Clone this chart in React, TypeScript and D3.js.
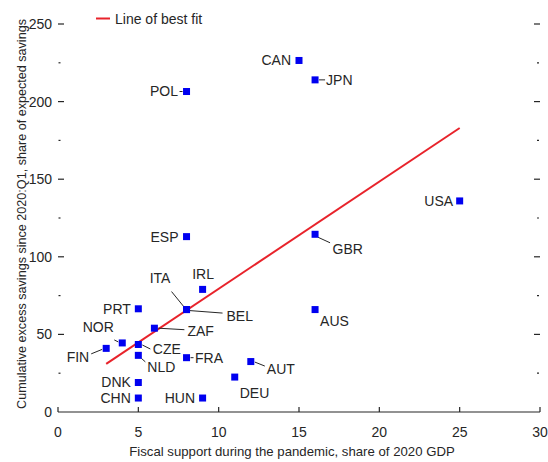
import React from 'react';
import * as d3 from 'd3';

// Fiscal support (% of 2020 GDP) vs cumulative excess savings since 2020:Q1
const countries = ['CAN', 'JPN', 'POL', 'USA', 'ESP', 'GBR', 'AUS', 'IRL', 'ITA', 'BEL', 'PRT', 'ZAF', 'NOR', 'CZE', 'FIN', 'NLD', 'FRA', 'AUT', 'DEU', 'DNK', 'CHN', 'HUN'];
const fiscalSupport = [15, 16, 8, 25, 8, 16, 16, 9, 8, 8, 5, 6, 4, 5, 3, 5, 8, 12, 11, 5, 5, 9];
const excessSavings = [226.5, 214, 206.5, 136, 113, 114.5, 66, 79, 66, 66, 66.5, 54, 44.5, 43.5, 41, 36.5, 35, 32.5, 22.5, 19, 9, 9];

// best fit endpoints
const fitX = [3, 25];
const fitY = [31, 183];

const xTicks = [0, 5, 10, 15, 20, 25, 30];
const yTicks = [0, 50, 100, 150, 200, 250];
const yMinorTicks = [25, 75, 125, 175, 225];

// label placement: dx, dy, anchor, optional leader [x1,y1,x2,y2] relative to the point
type Place = { dx: number; dy: number; anchor: 'start' | 'middle' | 'end'; leader?: number[] };
const placement: Record<string, Place> = {
  CAN: { dx: -8, dy: 0, anchor: 'end' },
  JPN: { dx: 11, dy: 0, anchor: 'start', leader: [4, 0, 10, 0] },
  POL: { dx: -8.5, dy: 0, anchor: 'end', leader: [-7, 0, -4, 0] },
  USA: { dx: -6.5, dy: 0, anchor: 'end' },
  ESP: { dx: -8, dy: 0, anchor: 'end' },
  GBR: { dx: 17.5, dy: 15, anchor: 'start', leader: [3, 3, 15, 8.5] },
  AUS: { dx: 5, dy: 12, anchor: 'start' },
  IRL: { dx: 0.5, dy: -15.5, anchor: 'middle' },
  ITA: { dx: -26.5, dy: -31.5, anchor: 'middle', leader: [-15, -18, -2, -2] },
  BEL: { dx: 40, dy: 6.5, anchor: 'start', leader: [3, 1, 36, 3.5] },
  PRT: { dx: -7.5, dy: 0, anchor: 'end' },
  ZAF: { dx: 33, dy: 3, anchor: 'start', leader: [4, 0, 30, 1.5] },
  NOR: { dx: -24, dy: -16, anchor: 'middle', leader: [-8, -3, -4, -1] },
  CZE: { dx: 14.5, dy: 5, anchor: 'start', leader: [4, 0.5, 12, 4.5] },
  FIN: { dx: -17, dy: 8.3, anchor: 'end', leader: [-15, 5.5, -4, 1] },
  NLD: { dx: 9, dy: 11.5, anchor: 'start', leader: [3, 3, 7, 6.5] },
  FRA: { dx: 8.5, dy: 0, anchor: 'start', leader: [4, 0, 7, 0] },
  AUT: { dx: 16, dy: 8, anchor: 'start', leader: [4, 0.5, 14, 4.5] },
  DEU: { dx: 5, dy: 16, anchor: 'start' },
  DNK: { dx: -7.5, dy: 0, anchor: 'end' },
  CHN: { dx: -7.5, dy: 0, anchor: 'end' },
  HUN: { dx: -7.5, dy: 0, anchor: 'end' },
};

const W = 548;
const H = 462;
const FONT = '"Liberation Sans", Arial, sans-serif';
const INK = '#262626';

const App: React.FC = () => {
  const x = d3.scaleLinear().domain([0, 30]).range([58, 540]);
  const y = d3.scaleLinear().domain([0, 250]).range([412, 24]);
  const size = 7;

  const fitLine = d3
    .line<number>()
    .x((d) => x(fitX[d]))
    .y((d) => y(fitY[d]));

  return (
    <svg
      width={W}
      height={H}
      style={{ position: 'absolute', left: 0, top: 0, background: '#fff' }}
      fontFamily={FONT}
    >
      {/* bottom axis */}
      <line x1={x(0)} x2={x(30)} y1={y(0)} y2={y(0)} stroke={INK} strokeWidth={1.2} />
      {xTicks.map((t) => (
        <g key={'x' + t}>
          <line x1={x(t)} x2={x(t)} y1={y(0)} y2={y(0) - 5} stroke={INK} strokeWidth={1.2} />
          <text x={x(t)} y={437} textAnchor="middle" fontSize={14} fill={INK}>
            {t}
          </text>
        </g>
      ))}

      {/* left ticks and labels, mirrored ticks on the right */}
      {yTicks.map((t) => (
        <g key={'y' + t}>
          {t > 0 && <line x1={58} x2={64} y1={y(t)} y2={y(t)} stroke={INK} strokeWidth={1.2} />}
          <text x={52} y={y(t)} dy="0.35em" textAnchor="end" fontSize={14} fill={INK}>
            {t}
          </text>
          {t > 0 && <line x1={534} x2={540} y1={y(t)} y2={y(t)} stroke={INK} strokeWidth={1.2} />}
        </g>
      ))}
      {yMinorTicks.map((t) => (
        <g key={'m' + t}>
          <line x1={58.5} x2={60.5} y1={y(t)} y2={y(t)} stroke={INK} strokeWidth={1.2} />
          <line x1={537} x2={539} y1={y(t)} y2={y(t)} stroke={INK} strokeWidth={1.2} />
        </g>
      ))}

      {/* axis titles */}
      <text x={292} y={456} textAnchor="middle" fontSize={13.2} fill={INK}>
        Fiscal support during the pandemic, share of 2020 GDP
      </text>
      <text
        transform={`translate(25.5,${214}) rotate(-90)`}
        textAnchor="middle"
        fontSize={12.6}
        fill={INK}
      >
        Cumulative excess savings since 2020:Q1, share of expected savings
      </text>

      {/* best fit */}
      <path d={fitLine([0, 1]) ?? ''} stroke="#e8232b" strokeWidth={2} fill="none" />

      {/* legend */}
      <line x1={96} x2={110} y1={18.5} y2={18.5} stroke="#e8232b" strokeWidth={2} />
      <text x={115} y={19} dy="0.35em" fontSize={14} fill={INK}>
        Line of best fit
      </text>

      {/* points and labels */}
      {countries.map((c, i) => {
        const px = x(fiscalSupport[i]);
        const py = y(excessSavings[i]);
        const p = placement[c];
        return (
          <g key={c}>
            {p.leader && (
              <line
                x1={px + p.leader[0]}
                y1={py + p.leader[1]}
                x2={px + p.leader[2]}
                y2={py + p.leader[3]}
                stroke={INK}
                strokeWidth={1}
              />
            )}
            <rect x={px - size / 2} y={py - size / 2} width={size} height={size} fill="#0000f0" />
            <text
              x={px + p.dx}
              y={py + p.dy}
              dy="0.35em"
              textAnchor={p.anchor}
              fontSize={14}
              fill={INK}
            >
              {c}
            </text>
          </g>
        );
      })}
    </svg>
  );
};

export default App;
